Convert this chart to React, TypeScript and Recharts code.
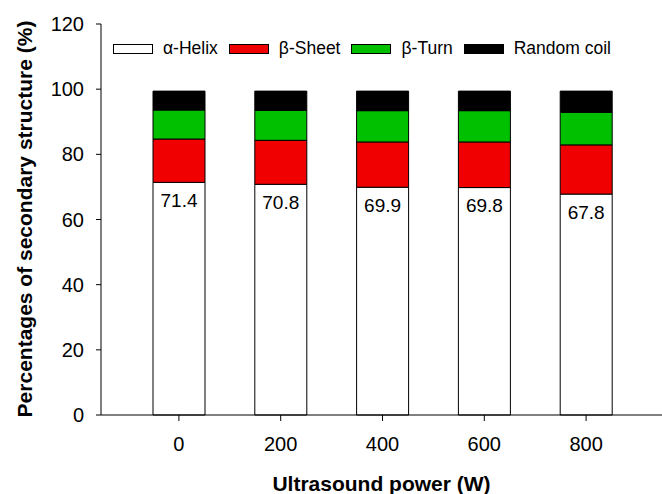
import React from "react";
import { Bar, BarChart, LabelList, XAxis, YAxis } from "recharts";

const powers = ["0", "200", "400", "600", "800"];
const alphaHelix = [71.4, 70.8, 69.9, 69.8, 67.8];
const betaSheet = [13.3, 13.5, 13.9, 14.0, 15.1];
const betaTurn = [8.9, 9.2, 9.6, 9.6, 10.0];
const randomCoil = [5.8, 5.9, 6.0, 6.0, 6.5];
const yTicks = [0, 20, 40, 60, 80, 100, 120];

const series = [
  { key: "helix", name: "α-Helix", fill: "#ffffff" },
  { key: "sheet", name: "β-Sheet", fill: "#f00000" },
  { key: "turn", name: "β-Turn", fill: "#00c000" },
  { key: "coil", name: "Random coil", fill: "#000000" },
];

const data = powers.map((p, i) => ({
  power: p,
  helix: alphaHelix[i],
  sheet: betaSheet[i],
  turn: betaTurn[i],
  coil: randomCoil[i],
}));

const font = "'Liberation Sans', Arial, sans-serif";

// legend drawn as an overlay so it doesn't push the plot down
const LegendBox = () => (
  <div
    style={{
      position: "absolute",
      left: 113,
      top: 38,
      display: "flex",
      alignItems: "center",
      fontFamily: font,
      fontSize: 17.5,
      color: "#000",
      whiteSpace: "nowrap",
    }}
  >
    {series.map((s) => (
      <div key={s.key} style={{ display: "flex", alignItems: "center", marginRight: 11 }}>
        <span
          style={{
            display: "inline-block",
            width: 38,
            height: 8,
            background: s.fill,
            border: "1px solid #000",
            marginRight: 10,
          }}
        />
        <span>{s.name}</span>
      </div>
    ))}
  </div>
);

const HelixLabel = (props: any) => {
  const { x, y, width, value } = props;
  return (
    <text
      x={x + width / 2}
      y={y + 18}
      textAnchor="middle"
      dominantBaseline="central"
      fontSize={19}
      fontFamily={font}
      fill="#000"
    >
      {value}
    </text>
  );
};

export default function App() {
  return (
    <div style={{ position: "absolute", left: 0, top: 0, width: 662, height: 494, background: "#fff" }}>
      <BarChart
        width={662}
        height={494}
        data={data}
        margin={{ top: 24, right: 0, bottom: 0, left: 0 }}
        barSize={52}
      >
        <XAxis
          dataKey="power"
          height={79}
          padding={{ left: 27, right: 25 }}
          stroke="#000"
          tickSize={6}
          tickMargin={16}
          tick={{ fill: "#000", fontSize: 20, fontFamily: font }}
          label={() => (
            <text
              x={101 + 561 / 2}
              y={483}
              textAnchor="middle"
              dominantBaseline="central"
              fontSize={21}
              fontWeight="bold"
              fontFamily={font}
              fill="#000"
            >
              Ultrasound power (W)
            </text>
          )}
        />
        <YAxis
          width={101}
          domain={[0, 120]}
          ticks={yTicks}
          interval={0}
          stroke="#000"
          tickSize={5}
          tickMargin={12}
          tick={{ fill: "#000", fontSize: 20, fontFamily: font }}
          label={() => (
            <text
              x={24}
              y={219}
              transform="rotate(-90 24 219)"
              textAnchor="middle"
              dominantBaseline="central"
              fontSize={21}
              fontWeight="bold"
              fontFamily={font}
              fill="#000"
            >
              Percentages of secondary structure (%)
            </text>
          )}
        />
        {series.map((s) => (
          <Bar
            key={s.key}
            dataKey={s.key}
            name={s.name}
            stackId="a"
            fill={s.fill}
            stroke="#000"
            strokeWidth={1}
            isAnimationActive={false}
          >
            {s.key === "helix" && <LabelList dataKey="helix" content={HelixLabel} />}
          </Bar>
        ))}
      </BarChart>
      <LegendBox />
    </div>
  );
}
